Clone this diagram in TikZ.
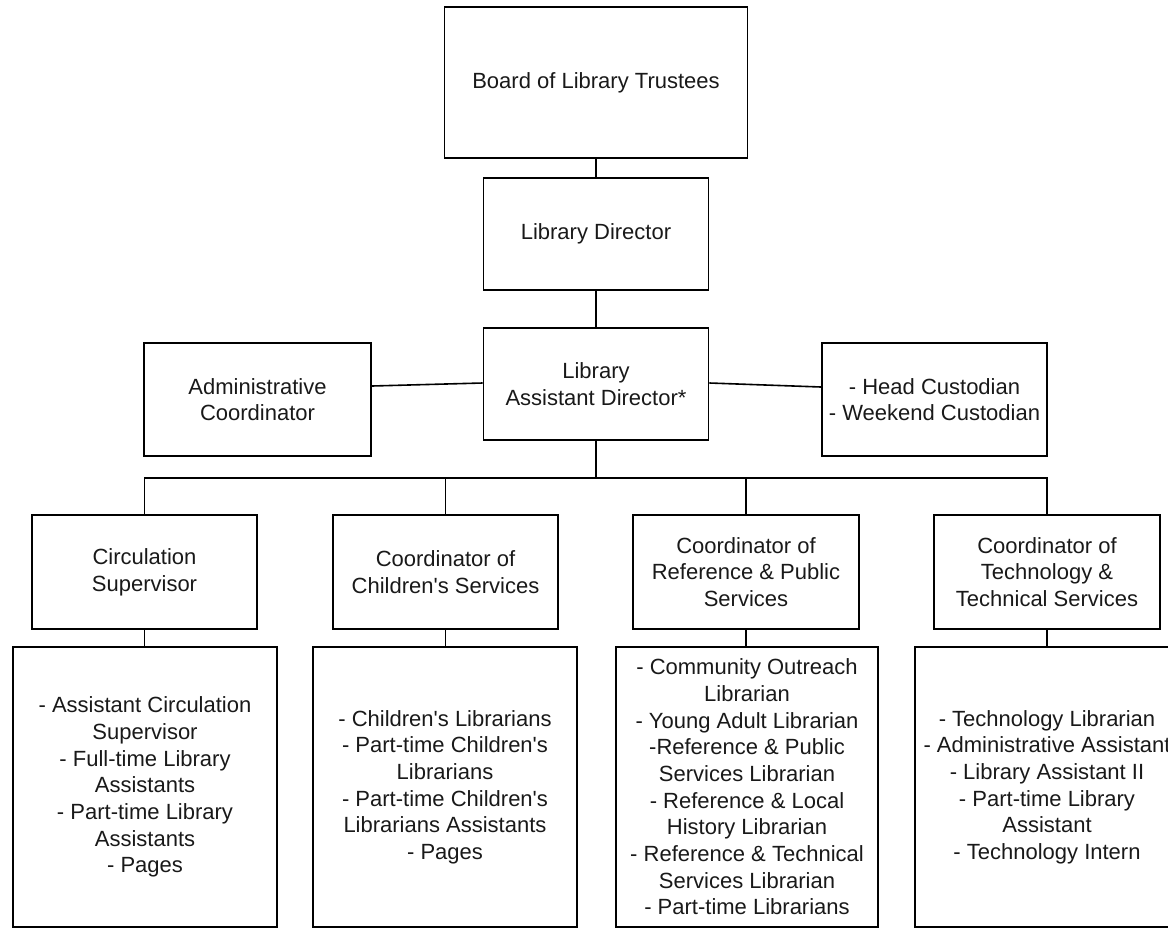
\documentclass[tikz,border=0pt]{standalone}
\usepackage{fontspec}
\setmainfont{Liberation Sans}
\begin{document}
\begin{tikzpicture}[x=0.75pt,y=-0.75pt,
  box/.style={draw=black,line width=1.4pt,rectangle,inner sep=0pt,align=center,
    font=\fontsize{16.5}{20}\selectfont,text=black!90},
  link/.style={draw=black,line width=1.4pt},
  side/.style={draw=black,line width=1.2pt}]
\useasboundingbox (0,0) rectangle (1168,929);
\clip (0,0) rectangle (1168,929);
% top
\node[box,minimum width=227.25pt,minimum height=113.25pt] (board) at (596,82.5) {Board of Library Trustees};
\node[box,minimum width=168.75pt,minimum height=84pt] (dir) at (596,234) {Library Director};
\node[box,minimum width=168.75pt,minimum height=84pt] (asst) at (596,384) {Library\\Assistant Director*};
\node[box,minimum width=170.25pt,minimum height=84.75pt] (admin) at (257.5,399.5) {Administrative\\Coordinator};
\node[box,minimum width=168.75pt,minimum height=84.75pt] (cust) at (934.5,399.5) {- Head Custodian\\- Weekend Custodian};
% level 3
\node[box,minimum width=168.75pt,minimum height=85.5pt] (circ) at (144.5,572) {Circulation\\Supervisor};
\node[box,minimum width=168.75pt,minimum height=85.5pt] (child) at (445.5,572) {Coordinator of\\Children\textquotesingle s Services};
\node[box,minimum width=169.5pt,minimum height=85.5pt] (ref) at (746,572) {Coordinator of\\Reference \& Public\\Services};
\node[box,minimum width=169.5pt,minimum height=85.5pt] (tech) at (1047,572) {Coordinator of\\Technology \&\\Technical Services};
% lower lists
\node[box,minimum width=198pt,minimum height=210pt] (circL) at (145,787) {- Assistant Circulation\\Supervisor\\- Full-time Library\\Assistants\\- Part-time Library\\Assistants\\- Pages};
\node[box,minimum width=198pt,minimum height=210pt] (childL) at (445,787) {- Children\textquotesingle s Librarians\\- Part-time Children\textquotesingle s\\Librarians\\- Part-time Children\textquotesingle s\\Librarians Assistants\\- Pages};
\node[box,minimum width=196.5pt,minimum height=210pt] (refL) at (747,787) {- Community Outreach\\Librarian\\- Young Adult Librarian\\-Reference \& Public\\Services Librarian\\- Reference \& Local\\History Librarian\\- Reference \& Technical\\Services Librarian\\- Part-time Librarians};
\node[box,minimum width=198pt,minimum height=210pt] (techL) at (1047,787) {- Technology Librarian\\- Administrative Assistant\\- Library Assistant II\\- Part-time Library\\Assistant\\- Technology Intern};
% connectors
\coordinate (bus) at (596,478);
\draw[link] (board.south) -- (dir.north);
\draw[link] (dir.south) -- (asst.north);
\draw[side] (admin.east |- 0,386) -- (asst.west |- 0,383);
\draw[side] (asst.east |- 0,383) -- (cust.west |- 0,387);
\draw[link] (asst.south) -- (bus);
\draw[link] (circ.north) |- (bus) -| (tech.north);
\draw[link] (child.north) -- (child.north |- bus);
\draw[link] (ref.north) -- (ref.north |- bus);
\draw[link] (circ.south) -- (circ.south |- circL.north);
\draw[link] (child.south) -- (child.south |- childL.north);
\draw[link] (ref.south) -- (ref.south |- refL.north);
\draw[link] (tech.south) -- (techL.north);
\end{tikzpicture}
\end{document}
